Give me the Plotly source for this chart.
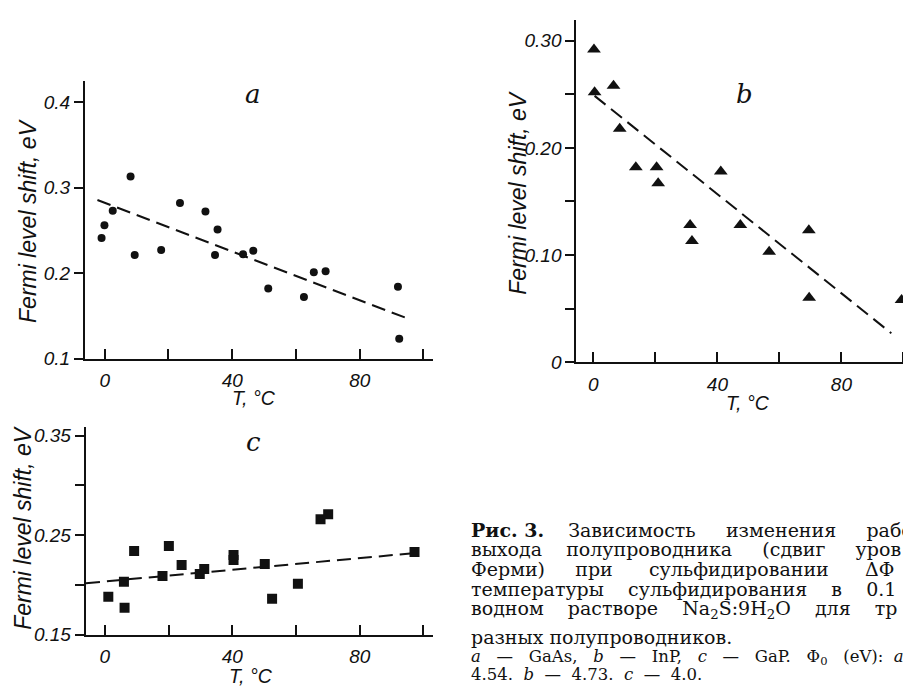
import plotly.graph_objects as go

W, H = 911, 689

# ---------------- data ----------------
# panel a (GaAs)
a_T = [-1.0, -0.1, 2.5, 8.1, 9.4, 17.7, 23.6, 31.6, 35.4, 34.6, 43.4, 46.6, 51.3, 62.5, 65.6, 69.3, 92.0, 92.4]
a_shift = [0.241, 0.256, 0.273, 0.313, 0.221, 0.227, 0.282, 0.272, 0.251, 0.221, 0.222, 0.226, 0.182, 0.172, 0.201, 0.202, 0.184, 0.123]
a_fit_T = [-2.3, 95.3]
a_fit_shift = [0.2854, 0.1464]

# panel b (InP)
b_T = [0.2, 0.4, 6.5, 8.5, 13.7, 20.4, 20.9, 31.2, 31.8, 41.1, 47.4, 56.7, 69.5, 69.6, 99.4]
b_shift = [0.292, 0.252, 0.258, 0.218, 0.182, 0.182, 0.167, 0.128, 0.113, 0.178, 0.128, 0.103, 0.123, 0.060, 0.058]
b_fit_T = [0.4, 96.1]
b_fit_shift = [0.2486, 0.0269]

# panel c (GaP)
c_T = [1.1, 6.0, 6.2, 9.2, 18.1, 20.1, 24.1, 29.8, 31.2, 40.4, 40.4, 50.2, 52.5, 60.6, 67.7, 70.1, 97.2]
c_shift = [0.188, 0.203, 0.177, 0.234, 0.209, 0.239, 0.220, 0.211, 0.216, 0.230, 0.225, 0.221, 0.186, 0.201, 0.266, 0.271, 0.233]
c_fit_T = [-5.9, 95.9]
c_fit_shift = [0.2017, 0.2315]

x_major = [0, 40, 80]
x_major_text = ["0", "40", "80"]
x_minor = [20, 60, 100]
a_yticks = [0.1, 0.2, 0.3, 0.4]
a_ytext = ["0.1", "0.2", "0.3", "0.4"]
a_yminor = []
b_yticks = [0, 0.10, 0.20, 0.30]
b_ytext = ["0", "0.10", "0.20", "0.30"]
b_yminor = [0.05, 0.15, 0.25]
c_yticks = [0.15, 0.25, 0.35]
c_ytext = ["0.15", "0.25", "0.35"]
c_yminor = [0.20, 0.30]

caption_lines = [
    "<b>Рис. 3.</b>    Зависимость     изменения     рабо",
    "выхода    полупроводника     (сдвиг     уров",
    "Ферми)     при      сульфидировании      ΔΦ",
    "температуры    сульфидирования    в    0.1",
    "водном    растворе    Na<sub>2</sub>S:9H<sub>2</sub>O    для    тр",
    "разных полупроводников.",
]
caption_small = [
    "<i>a</i>   —   GaAs,   <i>b</i>   —   InP,   <i>c</i>   —   GaP.   Φ<sub>0</sub>   (eV):  <i>a</i>",
    "4.54.  <i>b</i>  —  4.73.  <i>c</i>  —  4.0.",
]

# ---------------- style ----------------
SANS = "Liberation Sans, Arial, sans-serif"
SERIF = "DejaVu Serif, Liberation Serif, serif"
BLACK = "#111111"


def px_x(p):
    return p / W


def px_y(p):
    return 1 - p / H


fig = go.Figure()

panels = [
    dict(x=a_T, y=a_shift, fx=a_fit_T, fy=a_fit_shift, sym="circle", size=8,
         xa="x", ya="y", dx=(77, 425), dy=(355.7, 73), xr=[-6.2, 103], yr=[0.1, 0.425],
         yt=a_yticks, ytt=a_ytext, ym=a_yminor),
    dict(x=b_T, y=b_shift, fx=b_fit_T, fy=b_fit_shift, sym="triangle-up", size=12,
         xa="x2", ya="y2", dx=(568.3, 910), dy=(359.3, 11.7), xr=[-5.5, 104.7], yr=[0, 0.319],
         yt=b_yticks, ytt=b_ytext, ym=b_yminor),
    dict(x=c_T, y=c_shift, fx=c_fit_T, fy=c_fit_shift, sym="square", size=10,
         xa="x3", ya="y3", dx=(77.7, 425), dy=(636.7, 425), xr=[-6.0, 103], yr=[0.15, 0.359],
         yt=c_yticks, ytt=c_ytext, ym=c_yminor),
]

tickfont = dict(family=SANS, size=19, color=BLACK, style="italic")

for i, p in enumerate(panels):
    fig.add_trace(go.Scatter(x=p["fx"], y=p["fy"], mode="lines", xaxis=p["xa"], yaxis=p["ya"],
                             line=dict(color=BLACK, width=2, dash="14px,7px"),
                             showlegend=False, hoverinfo="skip"))
    fig.add_trace(go.Scatter(x=p["x"], y=p["y"], mode="markers", xaxis=p["xa"], yaxis=p["ya"],
                             marker=dict(symbol=p["sym"], size=p["size"], color=BLACK,
                                         line=dict(width=0)),
                             showlegend=False))
    sfx = "" if i == 0 else str(i + 1)
    fig.layout["xaxis" + sfx] = dict(
        domain=[px_x(p["dx"][0]), px_x(p["dx"][1])], range=p["xr"], anchor="y" + sfx,
        tickmode="array", tickvals=x_major, ticktext=x_major_text,
        ticks="inside", ticklen=10, tickwidth=2, tickcolor=BLACK,
        minor=dict(tickmode="array", tickvals=x_minor, ticks="inside", ticklen=10,
                   tickwidth=2, tickcolor=BLACK, showgrid=False),
        showline=True, linecolor=BLACK, linewidth=2, showgrid=False,
        zeroline=False, tickfont=tickfont, ticklabelstandoff=4,
    )
    ydict = dict(
        domain=[px_y(p["dy"][0]), px_y(p["dy"][1])], range=p["yr"], anchor="x" + sfx,
        tickmode="array", tickvals=p["yt"], ticktext=p["ytt"],
        ticks="outside", ticklen=9, tickwidth=2, tickcolor=BLACK,
        showline=True, linecolor=BLACK, linewidth=2, showgrid=False,
        zeroline=False, tickfont=tickfont, ticklabelstandoff=0,
    )
    if p["ym"]:
        ydict["minor"] = dict(tickmode="array", tickvals=p["ym"], ticks="outside", ticklen=9,
                              tickwidth=2, tickcolor=BLACK, showgrid=False)
    fig.layout["yaxis" + sfx] = ydict

ann = []
# panel letters
for letter, (x, y) in zip(["a", "b", "c"], [(245, 87), (736, 86), (245, 441)]):
    ann.append(dict(text=letter, x=px_x(x), y=px_y(y), xref="paper", yref="paper",
                    showarrow=False, font=dict(family=SERIF, size=26, color=BLACK, style="italic"),
                    xanchor="center", yanchor="middle"))
# axis titles
for (x, y) in [(20, 215.7), (510, 187), (15, 528)]:
    ann.append(dict(text="Fermi level shift, eV", x=px_x(x), y=px_y(y), xref="paper", yref="paper",
                    showarrow=False, textangle=-90,
                    font=dict(family=SANS, size=23, color=BLACK, style="italic"),
                    xanchor="center", yanchor="middle"))
for (x, y) in [(246, 396), (740, 401), (243, 679)]:
    ann.append(dict(text="T, °C", x=px_x(x), y=px_y(y), xref="paper", yref="paper",
                    showarrow=False, font=dict(family=SANS, size=19.5, color=BLACK, style="italic"),
                    xanchor="center", yanchor="middle"))
# caption
cap_x = 462
cap_y = [530, 550, 570, 590, 611, 639]
for txt, y in zip(caption_lines, cap_y):
    ann.append(dict(text=txt, x=px_x(cap_x), y=px_y(y), xref="paper", yref="paper",
                    showarrow=False, font=dict(family=SERIF, size=19, color=BLACK),
                    xanchor="left", yanchor="middle", align="left", borderpad=0))
for txt, y in zip(caption_small, [660, 677]):
    ann.append(dict(text=txt, x=px_x(cap_x), y=px_y(y), xref="paper", yref="paper",
                    showarrow=False, font=dict(family=SERIF, size=16.5, color=BLACK),
                    xanchor="left", yanchor="middle", align="left", borderpad=0))

fig.update_layout(
    width=W, height=H, margin=dict(l=0, r=0, t=0, b=0),
    paper_bgcolor="white", plot_bgcolor="white", annotations=ann, showlegend=False,
)

fig.write_html("out.html")
